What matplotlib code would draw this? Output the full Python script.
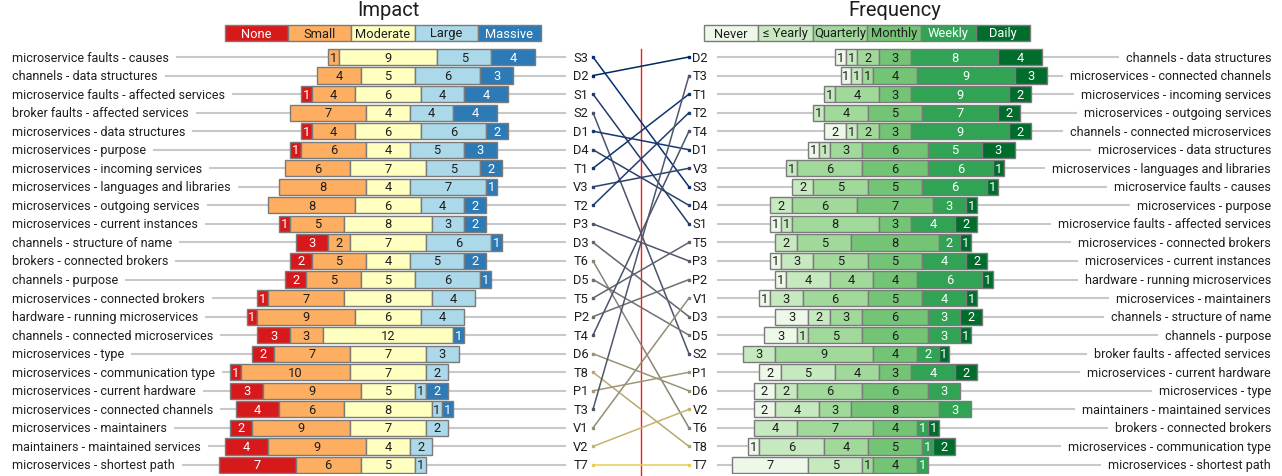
import matplotlib
matplotlib.use("Agg")
import matplotlib.pyplot as plt
import numpy as np

plt.rcParams['font.family'] = ['Roboto', 'DejaVu Sans']

# ---- data ----
impact_levels = ["None", "Small", "Moderate", "Large", "Massive"]
impact_colors = ["#d7191c", "#fdae61", "#ffffbf", "#abd9e9", "#2c7bb6"]
impact_text = ["white", "#222222", "#222222", "#222222", "white"]

freq_levels = ["Never", "≤ Yearly", "Quarterly", "Monthly", "Weekly", "Daily"]
freq_colors = ["#edf8e9", "#c7e9c0", "#a1d99b", "#74c476", "#31a354", "#006d2c"]
freq_text = ["#222222", "#222222", "#222222", "#222222", "white", "white"]

impact_labels = [
    "microservice faults - causes", "channels - data structures",
    "microservice faults - affected services", "broker faults - affected services",
    "microservices - data structures", "microservices - purpose",
    "microservices - incoming services", "microservices - languages and libraries",
    "microservices - outgoing services", "microservices - current instances",
    "channels - structure of name", "brokers - connected brokers",
    "channels - purpose", "microservices - connected brokers",
    "hardware - running microservices", "channels - connected microservices",
    "microservices - type", "microservices - communication type",
    "microservices - current hardware", "microservices - connected channels",
    "microservices - maintainers", "maintainers - maintained services",
    "microservices - shortest path",
]
impact_codes = ["S3", "D2", "S1", "S2", "D1", "D4", "T1", "V3", "T2", "P3", "D3", "T6",
                "D5", "T5", "P2", "T4", "D6", "T8", "P1", "T3", "V1", "V2", "T7"]
# None, Small, Moderate, Large, Massive
impact_counts = np.array([
    [0, 1, 9, 5, 4], [0, 4, 5, 6, 3], [1, 4, 6, 4, 4], [0, 7, 4, 4, 4],
    [1, 4, 6, 6, 2], [1, 6, 4, 5, 3], [0, 6, 7, 5, 2], [0, 8, 4, 7, 1],
    [0, 8, 6, 4, 2], [1, 5, 8, 3, 2], [3, 2, 7, 6, 1], [2, 5, 4, 5, 2],
    [2, 5, 5, 6, 1], [1, 7, 8, 4, 0], [1, 9, 6, 4, 0], [3, 3, 12, 0, 1],
    [2, 7, 7, 3, 0], [1, 10, 7, 2, 0], [3, 9, 5, 1, 2], [4, 6, 8, 1, 1],
    [2, 9, 7, 2, 0], [4, 9, 4, 2, 0], [7, 6, 5, 1, 0],
])

freq_labels = [
    "channels - data structures", "microservices - connected channels",
    "microservices - incoming services", "microservices - outgoing services",
    "channels - connected microservices", "microservices - data structures",
    "microservices - languages and libraries", "microservice faults - causes",
    "microservices - purpose", "microservice faults - affected services",
    "microservices - connected brokers", "microservices - current instances",
    "hardware - running microservices", "microservices - maintainers",
    "channels - structure of name", "channels - purpose",
    "broker faults - affected services", "microservices - current hardware",
    "microservices - type", "maintainers - maintained services",
    "brokers - connected brokers", "microservices - communication type",
    "microservices - shortest path",
]
freq_codes = ["D2", "T3", "T1", "T2", "T4", "D1", "V3", "S3", "D4", "S1", "T5", "P3",
              "P2", "V1", "D3", "D5", "S2", "P1", "D6", "V2", "T6", "T8", "T7"]
# Never, <=Yearly, Quarterly, Monthly, Weekly, Daily
freq_counts = np.array([
    [1, 1, 2, 3, 8, 4], [1, 1, 1, 4, 9, 3], [0, 1, 4, 3, 9, 2], [0, 1, 4, 5, 7, 2],
    [2, 1, 2, 3, 9, 2], [1, 1, 3, 6, 5, 3], [0, 1, 6, 6, 6, 1], [0, 2, 5, 5, 6, 1],
    [0, 2, 6, 7, 3, 1], [1, 1, 8, 3, 4, 2], [0, 2, 5, 8, 2, 1], [1, 3, 5, 5, 4, 2],
    [1, 4, 4, 4, 6, 1], [1, 3, 6, 5, 4, 1], [3, 2, 3, 6, 3, 2], [3, 1, 5, 6, 3, 1],
    [0, 3, 9, 4, 2, 1], [2, 5, 4, 3, 4, 2], [2, 2, 6, 6, 3, 0], [2, 4, 3, 8, 3, 0],
    [0, 4, 7, 4, 1, 1], [1, 6, 4, 5, 1, 2], [7, 5, 1, 4, 1, 0],
])

# ---- layout (pixels) ----
W, H = 1282, 477
fig = plt.figure(figsize=(W / 100, H / 100), dpi=100)


def px_axes(x0, y0, x1, y1):
    return fig.add_axes([x0 / W, 1 - y1 / H, (x1 - x0) / W, (y1 - y0) / H])


unit = 10.88          # pixels per respondent
row_h = 18.545        # pixels per row
y_top, y_bot = 58 - row_h / 2, 58 + 22.5 * row_h
n = len(impact_labels)
rows = np.arange(n)
FS = 9.0
NFS = 9.3
EDGE = "#7a7a7a"
LINE = "#c8c8c8"
TXT = "#1e1e1e"


def stacked(ax, counts, colors, tcolors, center_idx):
    # diverging stack, centred on the middle of the neutral category
    left = -(counts[:, :center_idx].sum(axis=1) + counts[:, center_idx] / 2).astype(float)
    for k in range(counts.shape[1]):
        w = counts[:, k]
        m = w > 0
        ax.barh(rows[m], w[m], left=left[m], height=0.87, color=colors[k],
                edgecolor=EDGE, linewidth=1, zorder=2)
        for r in rows[m]:
            ax.text(left[r] + w[r] / 2, r, str(w[r]), ha="center", va="center",
                    fontsize=NFS, color=tcolors[k] if tcolors[k] == "white" else TXT, zorder=3)
        left = left + w


# left panel: impact
axL = px_axes(0, y_top, 641, y_bot)
axL.set_xlim(-388 / unit, (641 - 388) / unit)
axL.set_ylim(n - 0.5, -0.5)
axL.axis("off")
stacked(axL, impact_counts, impact_colors, impact_text, 2)

# right panel: frequency
axR = px_axes(641, y_top, W, y_bot)
axR.set_xlim(-(895 - 641) / unit, (W - 895) / unit)
axR.set_ylim(n - 0.5, -0.5)
axR.axis("off")
stacked(axR, freq_counts, freq_colors, freq_text, 3)

lab_x = 376 / unit
line_x = 177 / unit
gap = 8
fig.canvas.draw()
renderer = fig.canvas.get_renderer()
for r in rows:
    t = axL.text(-lab_x, r, impact_labels[r], ha="left", va="center", fontsize=FS, color=TXT)
    x_end = t.get_window_extent(renderer).x1 + gap
    x_end = axL.transData.inverted().transform((x_end, 0))[0]
    axL.plot([x_end, line_x], [r, r], color=LINE, lw=1.5, zorder=0)

    t = axR.text(lab_x, r, freq_labels[r], ha="right", va="center", fontsize=FS, color=TXT)
    x_start = t.get_window_extent(renderer).x0 - gap
    x_start = axR.transData.inverted().transform((x_start, 0))[0]
    axR.plot([-line_x, x_start], [r, r], color=LINE, lw=1.5, zorder=0)

# middle: slope lines between the two rankings
axM = px_axes(593, y_top, 689, y_bot)
axM.set_xlim(0, 1)
axM.set_ylim(n - 0.5, -0.5)
axM.axis("off")
axM.plot([0.5, 0.5], [-0.43, 22.6], color="#ff1a1a", lw=1.0, clip_on=False, zorder=1)
cmap = plt.get_cmap("cividis")
right_pos = [freq_codes.index(c) for c in impact_codes]
rank_sum = np.array([i + j for i, j in enumerate(right_pos)])
shade = ((rank_sum - rank_sum.min()) / (rank_sum.max() - rank_sum.min())) ** 1.5
for i, code in enumerate(impact_codes):
    j = right_pos[i]
    c = cmap(0.05 + 0.85 * shade[i])
    axM.plot([0, 1], [i, j], color=c, lw=1.1, marker="s", markersize=1.8, clip_on=False, zorder=2)
    axM.text(-0.045, i, code, ha="right", va="center", fontsize=NFS, color=TXT)
for j, code in enumerate(freq_codes):
    axM.text(1.035, j, code, ha="left", va="center", fontsize=NFS, color=TXT)


# legends
def legend(x0, x1, levels, colors, tcolors, title, title_x):
    ax = px_axes(x0, 26, x1, 42)
    ax.set_xlim(0, len(levels))
    ax.set_ylim(-0.5, 0.5)
    ax.axis("off")
    ax.barh(np.zeros(len(levels)), np.ones(len(levels)), left=np.arange(len(levels)),
            height=1, color=colors, edgecolor=EDGE, linewidth=1, clip_on=False)
    for k, lv in enumerate(levels):
        ax.text(k + 0.5, 0, lv, ha="center", va="center", fontsize=NFS,
                color=tcolors[k] if tcolors[k] == "white" else TXT)
    fig.text(title_x / W, 1 - 11 / H, title, ha="center", va="center", fontsize=14.5, color=TXT)


legend(225, 541, impact_levels, impact_colors, impact_text, "Impact", 388)
legend(704, 1030, freq_levels, freq_colors, freq_text, "Frequency", 895)

fig.savefig("out.png", dpi=100)
